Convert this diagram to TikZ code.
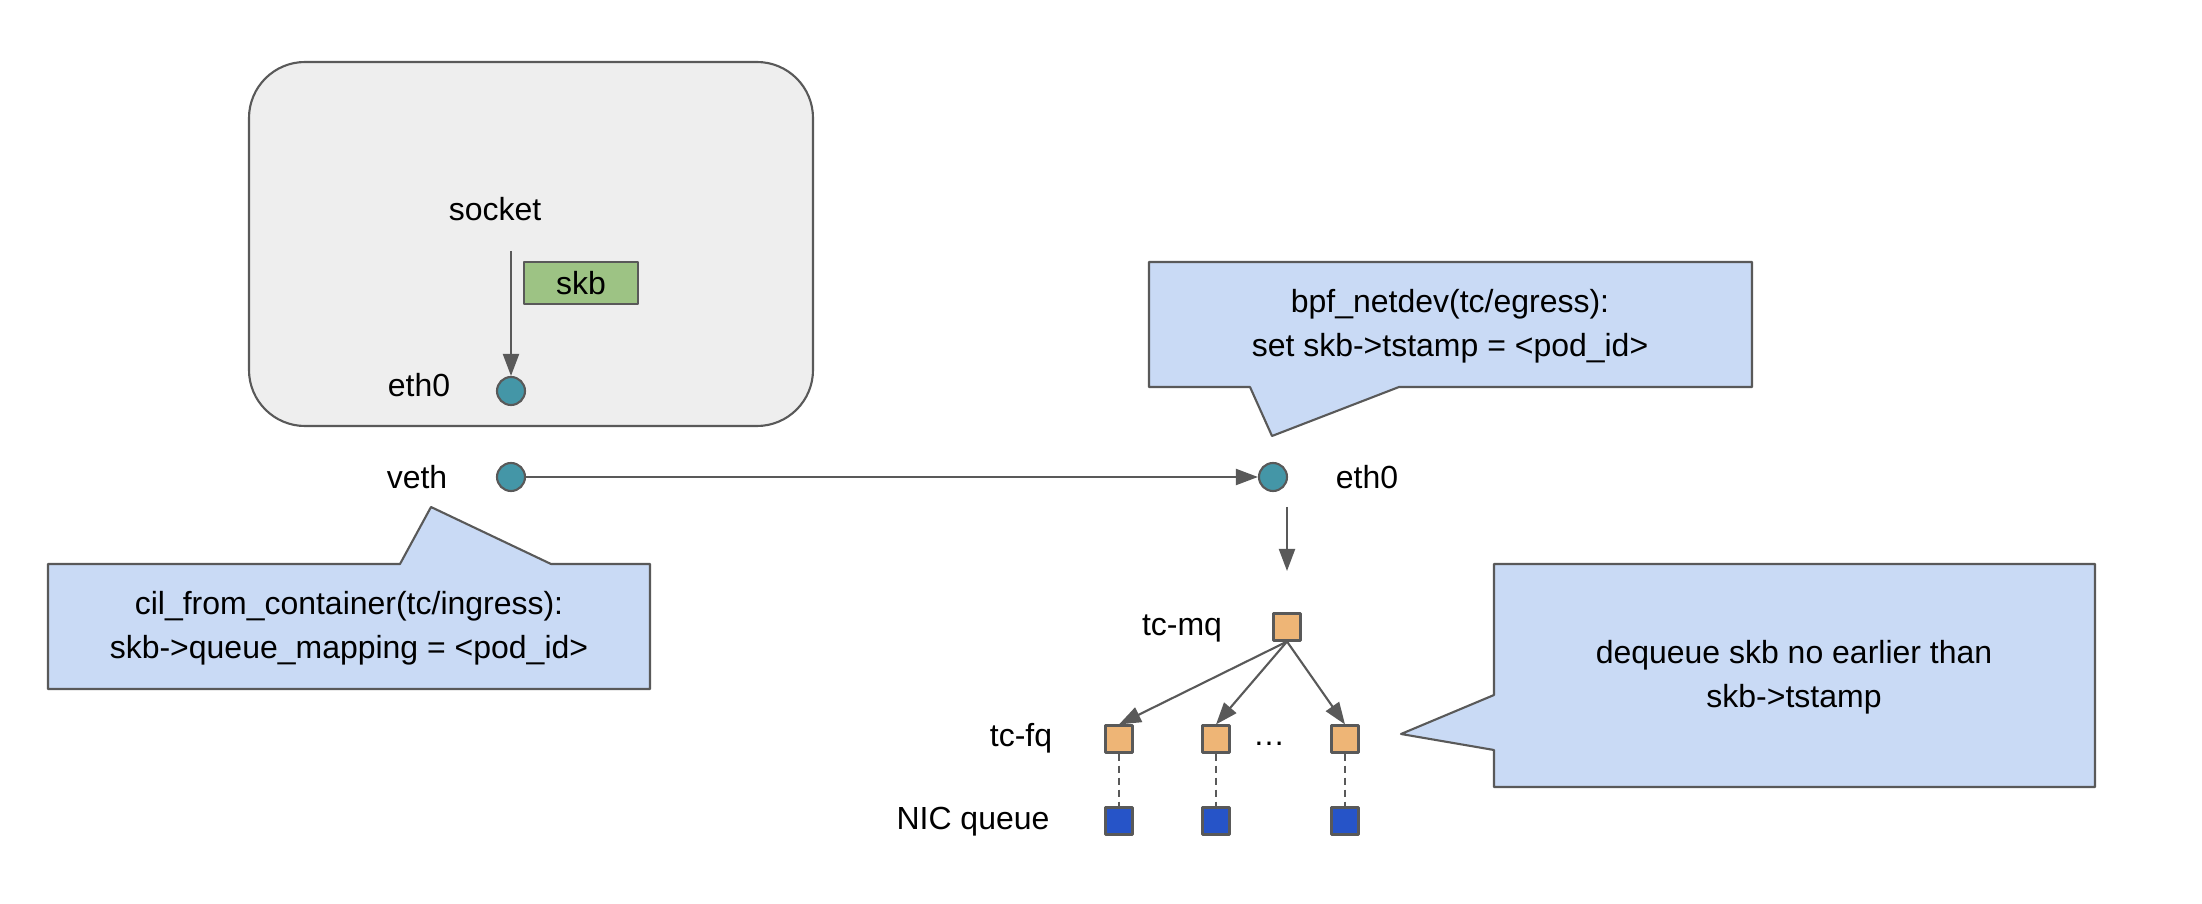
\documentclass[tikz,border=0pt]{standalone}
\usepackage{fontspec}
\setmainfont{Liberation Sans}
\usetikzlibrary{arrows.meta,positioning,calc}
\definecolor{lineg}{HTML}{595959}
\definecolor{hostc}{HTML}{EEEEEE}
\definecolor{portc}{HTML}{4496A7}
\definecolor{skbc}{HTML}{9DC384}
\definecolor{notec}{HTML}{C9DAF5}
\definecolor{qdiscc}{HTML}{EEB576}
\definecolor{nicc}{HTML}{2654C8}
\tikzset{
  lbl/.style={font=\fontsize{9.1}{10.8}\selectfont, inner sep=0pt},
  port/.style={circle, draw=lineg, fill=portc, line width=0.6pt, minimum size=0.28cm, inner sep=0pt},
  qdisc/.style={rectangle, draw=lineg, fill=qdiscc, line width=0.6pt, minimum size=0.27cm, inner sep=0pt},
  nicq/.style={rectangle, draw=lineg, fill=nicc, line width=0.6pt, minimum size=0.27cm, inner sep=0pt},
  flow/.style={draw=lineg, line width=0.6pt, -{Triangle[length=0.22cm, width=0.16cm]}},
  note/.style={draw=lineg, fill=notec, line width=0.6pt},
}

\begin{document}
\begin{tikzpicture}[x=1cm, y=-1cm, line join=round]
\useasboundingbox (0,0) rectangle (22.02,9.04);
% container
\draw[draw=lineg, fill=hostc, line width=0.6pt, rounded corners=0.56cm] (2.49,0.62) rectangle (8.13,4.26);
\node[lbl] (socket) at (4.95,2.09) {socket};
\node[lbl, draw=lineg, fill=skbc, line width=0.6pt, minimum width=1.14cm, minimum height=0.42cm] (skb) at (5.81,2.83) {skb};
\node[port] (ceth) at (5.11,3.91) {};
\node[lbl] (cethl) at (4.19,3.85) {eth0};
\coordinate (sk) at (5.11,2.51);
\draw[flow] (sk) -- (ceth);
% host side
\node[port] (veth) at (5.11,4.77) {};
\node[lbl] (vethl) at (4.17,4.77) {veth};
\node[port] (heth) at (12.73,4.77) {};
\node[lbl] (hethl) at (13.67,4.77) {eth0};
\draw[flow] (veth) -- (heth);
\coordinate (d1) at (12.87,5.07);
\coordinate (d2) at (12.87,5.71);
\draw[flow] (d1) -- (d2);
% qdiscs
\node[qdisc] (mq) at (12.87,6.27) {};
\node[lbl] (mql) at (11.82,6.28) {tc-mq};
\node[lbl] (fql) at (10.21,7.38) {tc-fq};
\node[lbl] (nicl) at (9.73,8.22) {NIC queue};
\foreach \n/\x in {1/11.19, 2/12.16, 3/13.45} {
  \node[qdisc] (fq\n) at (\x,7.39) {};
  \node[nicq] (nic\n) at (\x,8.21) {};
  \draw[flow] (mq.south) -- (fq\n.north);
  \draw[draw=lineg, line width=0.6pt, dash pattern=on 0.07cm off 0.05cm] (fq\n.south) -- (nic\n.north);
}
\node[lbl] (dots) at (12.69,7.44) {\dots};
% notes
\draw[note] (0.48,5.64) -- (4.00,5.64) -- (4.31,5.07) -- (5.51,5.64) -- (6.50,5.64) -- (6.50,6.89) -- (0.48,6.89) -- cycle;
\node[lbl, align=center] (ingress) at (3.49,6.28) {cil\_from\_container(tc/ingress):\\[0.06cm]skb->queue\_mapping = <pod\_id>};
\draw[note] (11.49,2.62) -- (17.52,2.62) -- (17.52,3.87) -- (13.99,3.87) -- (12.72,4.36) -- (12.50,3.87) -- (11.49,3.87) -- cycle;
\node[lbl, align=center] (egress) at (14.50,3.26) {bpf\_netdev(tc/egress):\\[0.06cm]set skb->tstamp = <pod\_id>};
\draw[note] (14.94,5.64) -- (20.95,5.64) -- (20.95,7.87) -- (14.94,7.87) -- (14.94,7.50) -- (14.01,7.34) -- (14.94,6.95) -- cycle;
\node[lbl, align=center] (fqnote) at (17.94,6.77) {dequeue skb no earlier than\\[0.06cm]skb->tstamp};
\end{tikzpicture}
\end{document}
